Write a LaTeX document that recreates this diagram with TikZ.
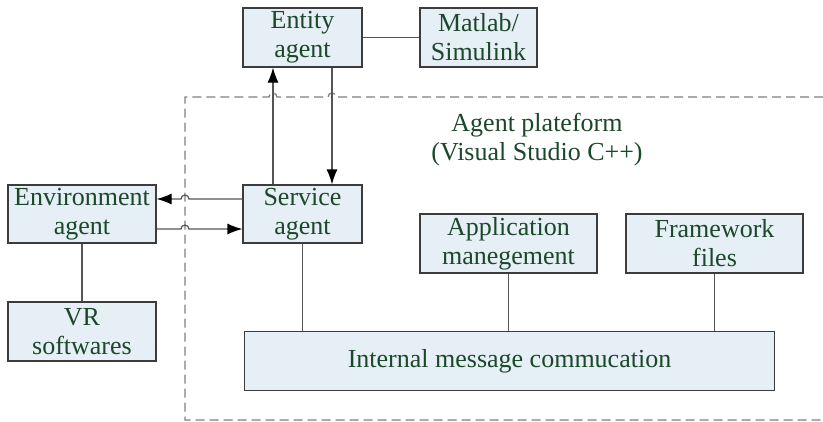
\documentclass[tikz,border=0pt]{standalone}
\usepackage{fontspec}
\setmainfont{Liberation Serif}
\newfontfamily\diagfont{Liberation Serif}
\usepackage{tikz}
\usetikzlibrary{arrows.meta}
\definecolor{boxfill}{RGB}{230,238,246}
\definecolor{boxtext}{RGB}{28,72,42}
\definecolor{boxline}{RGB}{60,60,60}
\definecolor{linkgray}{RGB}{85,85,85}
\definecolor{framegray}{RGB}{128,128,128}

\begin{document}
\begin{tikzpicture}[x=1pt,y=-1pt,
  box/.style={draw=boxline,line width=1.2pt,fill=boxfill,text=boxtext,align=center,
    inner sep=0pt,minimum height=59pt,font=\diagfont\fontsize{26}{29}\selectfont},
  link/.style={draw=linkgray,line width=1.2pt},
  arrow/.style={link,-{Latex[length=15pt,width=11pt,fill=black,color=black]}}]
  \useasboundingbox (0,0) rectangle (823,421);

  % platform frame, with hops over the vertical arrows
  \draw[framegray,line width=1.3pt,dash pattern=on 9pt off 5pt]
    (823,97) -- (336,97) arc (0:180:4pt) -- (277,97) arc (0:180:4pt)
    -- (185,97) -- (185,420) -- (823,420);
  \node[text=boxtext,align=center,font=\diagfont\fontsize{26}{29}\selectfont] (plat) at (537,140)
    {Agent plateform\\(Visual Studio C++)};

  \node[box,minimum width=119pt] (ent) at (302.5,37.5) {Entity\\agent};
  \node[box,minimum width=117pt] (mat) at (478.5,37.5) {Matlab/\\Simulink};
  \node[box,minimum width=148pt,minimum height=58pt] (env) at (82,214) {Environment\\agent};
  \node[box,minimum width=119pt,minimum height=58pt] (serv) at (302.5,214) {Service\\agent};
  \node[box,minimum width=177pt] (app) at (508.5,243.5) {Application\\manegement};
  \node[box,minimum width=177pt] (frame) at (714.5,243.5) {Framework\\files};
  \node[box,minimum width=148pt] (vr) at (82,331.5) {VR\\softwares};
  \node[box,minimum width=530pt] (msg) at (509.5,361) {Internal message commucation};

  \draw[link] (ent) -- (mat);
  \draw[link] (env) -- (vr);
  \foreach \n in {serv,app,frame} {
    \draw[link] (\n.south) -- (\n.south |- msg.north);
  }

  \draw[arrow] ([xshift=-29.5pt]serv.north) -- ([xshift=-29.5pt]ent.south);
  \draw[arrow] ([xshift=29.5pt]ent.south) -- ([xshift=29.5pt]serv.north);
  \draw[arrow] ([yshift=15pt]serv.west) -- (189,199) arc (0:180:4pt) -- ([yshift=15pt]env.east);
  \draw[arrow] ([yshift=-15pt]env.east) -- (181,229) arc (180:0:4pt) -- ([yshift=-15pt]serv.west);
\end{tikzpicture}
\end{document}
